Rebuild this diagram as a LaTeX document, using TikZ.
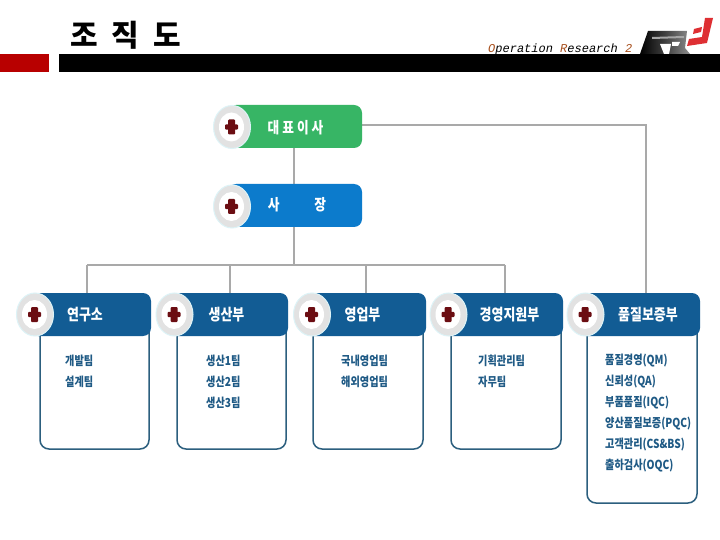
\documentclass[tikz,border=0pt]{standalone}
\usepackage{fontspec}
\setmainfont{Noto Sans CJK KR}
\newfontfamily\krn[FakeStretch=0.82]{Noto Sans CJK KR}
\newfontfamily\ormono{Liberation Mono}
\definecolor{navy}{HTML}{125C94}
\definecolor{ceog}{HTML}{37B565}
\definecolor{presb}{HTML}{0C7BCC}
\definecolor{listc}{HTML}{1F5A85}
\definecolor{edge}{HTML}{2C5F7E}
\definecolor{conn}{HTML}{A9A9A9}
\definecolor{rim}{HTML}{E2E2E2}
\definecolor{rimedge}{HTML}{DDF3F7}
\definecolor{crossc}{HTML}{6B0D12}
\definecolor{orc}{HTML}{A8501E}
\definecolor{logored}{HTML}{DE2F33}
\usetikzlibrary{shapes.geometric}
\tikzset{
 x=1pt,y=-1pt,
 conn/.style={draw=conn,line width=1.6pt},
 htext/.style={text=white,font=\krn\bfseries\fontsize{15.8}{15.8}\selectfont,inner sep=0},
 toptext/.style={text=white,font=\krn\bfseries\fontsize{15.5}{15.5}\selectfont,inner sep=0},
 team/.style={text=listc,font=\krn\bfseries\fontsize{12.4}{12.4}\selectfont,inner sep=0,anchor=west},
 bodybox/.style={draw=edge,line width=1.5pt,rounded corners=9pt,fill=white},
}
% #1 name, #2 cx, #3 cy
\newcommand{\badge}[3]{%
  \node[ellipse,fill=rim,draw=rimedge,line width=1pt,minimum width=37pt,minimum height=43pt,inner sep=0] (#1) at (#2,#3) {};
  \fill[white] (#2-.5,#3) ellipse [x radius=12.5pt,y radius=14.5pt];
  \fill[crossc,rounded corners=1pt] (#2-4,#3-7.5) rectangle (#2+3,#3+7.5);
  \fill[crossc,rounded corners=1pt] (#2-7,#3-2.7) rectangle (#2+6,#3+2.7);
}
% #1 name, #2 left, #3 top, #4 right, #5 colour
\newcommand{\hdr}[5]{%
  \fill[#5,rounded corners=8pt] (#2,#3) rectangle (#4,#3+43);
  \coordinate (#1) at (#2,#3);
}
\begin{document}
\begin{tikzpicture}
\useasboundingbox (0,0) rectangle (720,540);
\fill[white] (0,0) rectangle (720,540);

% logo
\shade[left color=black,right color=black!45,middle color=black!75]
  (640,54) -- (648,31) -- (687,31) -- (685,48) -- (690,54) -- cycle;
\fill[black!35] (652,37) -- (684,36) -- (684,38) -- (652,39) -- cycle;
\fill[white] (660,44) -- (671,44) -- (669,54) -- (664,54) -- cycle;
\fill[white] (672,42) -- (680,42) -- (678,46) -- (672,46) -- cycle;
\fill[logored] (705,18) -- (713,18) -- (707,43) -- (687,46) -- (689,39) -- (702,37) -- cycle;
\fill[logored] (694,29) -- (702,27) -- (701,32) -- (693,34) -- cycle;

% bars
\fill[black] (59,54) rectangle (720,72);
\fill[red!72!black] (0,54) rectangle (49,72);

% title
\node[inner sep=0,font=\bfseries\fontsize{30}{30}\selectfont] (title) at (125.5,35) {조\hspace{14pt}직\hspace{14pt}도};
\node[inner sep=0,font=\ormono\itshape\fontsize{12}{12}\selectfont,anchor=base west] (sub) at (488,53) {\textcolor{orc}{O}peration \textcolor{orc}{R}esearch \textcolor{orc}{2}};

% connectors
\coordinate (j) at (294,265);
\coordinate (jl) at (87,265);
\coordinate (jb) at (230,265);
\coordinate (jc) at (366,265);
\coordinate (jd) at (505,265);
\coordinate (qe) at (646,125);
\coordinate (ceoc) at (294,148);
\coordinate (presT) at (294,184);
\coordinate (presB) at (294,227);
\coordinate (ceoR) at (360,125);
\coordinate (qeT) at (646,294);
\coordinate (t1) at (87,294);
\coordinate (t2) at (230,294);
\coordinate (t3) at (366,294);
\coordinate (t4) at (505,294);
\draw[conn] (ceoc) -- (presT);
\draw[conn] (presB) -- (j);
\draw[conn] (jl) -- (jd);
\draw[conn] (jl) -- (t1);
\draw[conn] (jb) -- (t2);
\draw[conn] (jc) -- (t3);
\draw[conn] (jd) -- (t4);
\draw[conn] (ceoR) -- (qe) -- (qeT);

% top boxes
\hdr{ceo}{228}{105}{362}{ceog}
\badge{bceo}{232}{127}
\node[toptext] (ceot) at (295.5,128) {대\hspace{3pt}표\hspace{3pt}이\hspace{3pt}사};
\hdr{pres}{228}{184}{362}{presb}
\badge{bpres}{232}{206.5}
\node[toptext] (prest) at (297,204.5) {사\hspace{35pt}장};

% departments
\draw[bodybox] (40,320) rectangle (149,449);
\hdr{d1}{30}{293}{151}{navy}
\badge{b1}{35}{314.5}
\node[htext] (d1t) at (85,315) {연구소};
\node[team] (a1) at (65,360.5) {개발팀};
\node[team] (a2) at (65,381.5) {설계팀};

\draw[bodybox] (177,320) rectangle (286,449);
\hdr{d2}{170}{293}{288}{navy}
\badge{b2}{174.5}{314.5}
\node[htext] (d2t) at (226.5,315) {생산부};
\node[team] (b1t) at (206,360.5) {생산1팀};
\node[team] (b2t) at (206,381.5) {생산2팀};
\node[team] (b3t) at (206,402.5) {생산3팀};

\draw[bodybox] (313,320) rectangle (423,449);
\hdr{d3}{305}{293}{426}{navy}
\badge{b3}{312}{314.5}
\node[htext] (d3t) at (362.5,315) {영업부};
\node[team] (c1t) at (341,360.5) {국내영업팀};
\node[team] (c2t) at (341,381.5) {해외영업팀};

\draw[bodybox] (451,320) rectangle (561,449);
\hdr{d4}{442}{293}{563}{navy}
\badge{b4}{448.5}{314.5}
\node[htext] (d4t) at (509.5,315) {경영지원부};
\node[team] (e1t) at (478,360.5) {기획관리팀};
\node[team] (e2t) at (478,381.5) {자무팀};

\draw[bodybox] (587,320) rectangle (697,503);
\hdr{d5}{578}{293}{700}{navy}
\badge{b5}{585.5}{314.5}
\node[htext] (d5t) at (648,315) {품질보증부};
\node[team] (f1) at (605,360.5) {품질경영(QM)};
\node[team] (f2) at (605,381.5) {신뢰성(QA)};
\node[team] (f3) at (605,403) {부품품질(IQC)};
\node[team] (f4) at (605,424) {양산품질보증(PQC)};
\node[team] (f5) at (605,445) {고객관리(CS\&BS)};
\node[team] (f6) at (605,466) {출하검사(OQC)};
\end{tikzpicture}
\end{document}
